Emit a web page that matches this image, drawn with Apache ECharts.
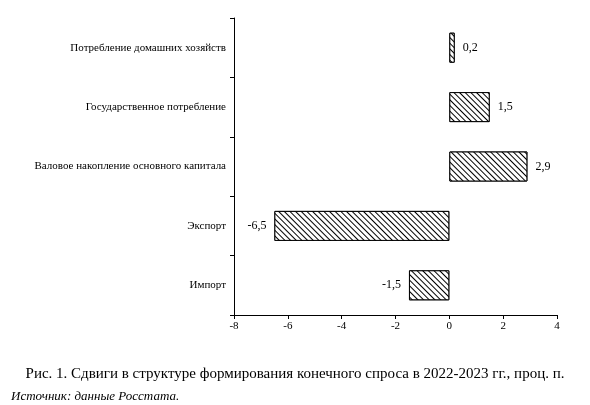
<!DOCTYPE html>
<html><head><meta charset="utf-8">
<script src="https://cdn.jsdelivr.net/npm/echarts@6/dist/echarts.min.js"></script>
<style>body{margin:0;background:#fff}#c{width:590px;height:405px}</style>
</head><body><div id="c"></div>
<script>
var categories=['Импорт','Экспорт','Валовое накопление основного капитала','Государственное потребление','Потребление домашних хозяйств'];
var values=[-1.5,-6.5,2.9,1.5,0.2];
var xTicks=[-8,-6,-4,-2,0,2,4];
var font='Liberation Serif';
var chart=echarts.init(document.getElementById('c'));
chart.setOption({
  animation:false,
  textStyle:{fontFamily:font,color:'#000'},
  title:[{text:'Рис. 1. Сдвиги в структуре формирования конечного спроса в 2022-2023 гг., проц. п.',left:'center',top:362,textStyle:{fontFamily:font,fontSize:15,fontWeight:'normal',color:'#000'}},
         {text:'Источник: данные Росстата.',left:6,top:385,textStyle:{fontFamily:font,fontSize:13,fontStyle:'italic',fontWeight:'normal',color:'#000'}}],
  grid:{left:234,right:33,top:18,bottom:90},
  xAxis:{type:'value',min:xTicks[0],max:xTicks[xTicks.length-1],interval:2,splitLine:{show:false},
    axisLine:{show:true,lineStyle:{color:'#000'}},axisTick:{show:true,length:4,lineStyle:{color:'#000'}},
    axisLabel:{fontFamily:font,fontSize:11,color:'#000',margin:6}},
  yAxis:[{type:'category',data:categories,axisLine:{show:false},axisTick:{show:false},
     axisLabel:{fontFamily:font,fontSize:11,color:'#000',margin:8}},
    {type:'category',data:categories,position:'left',axisLine:{show:true,onZero:true,lineStyle:{color:'#000'}},
     axisTick:{show:true,length:4,lineStyle:{color:'#000'}},axisLabel:{show:false}}],
  series:[{type:'bar',data:values,barWidth:30,yAxisIndex:0,
    itemStyle:{color:'#fff',borderColor:'#000',borderWidth:1,
      decal:{symbol:'rect',color:'#000',backgroundColor:'#fff',dashArrayX:[1,0],dashArrayY:[1,3],rotation:Math.PI/4,symbolSize:1}},
    label:{show:true,position:'outside',distance:8,fontFamily:font,fontSize:12,color:'#000',
      formatter:function(p){return String(p.value).replace('.',',');}}}]
});
</script></body></html>
